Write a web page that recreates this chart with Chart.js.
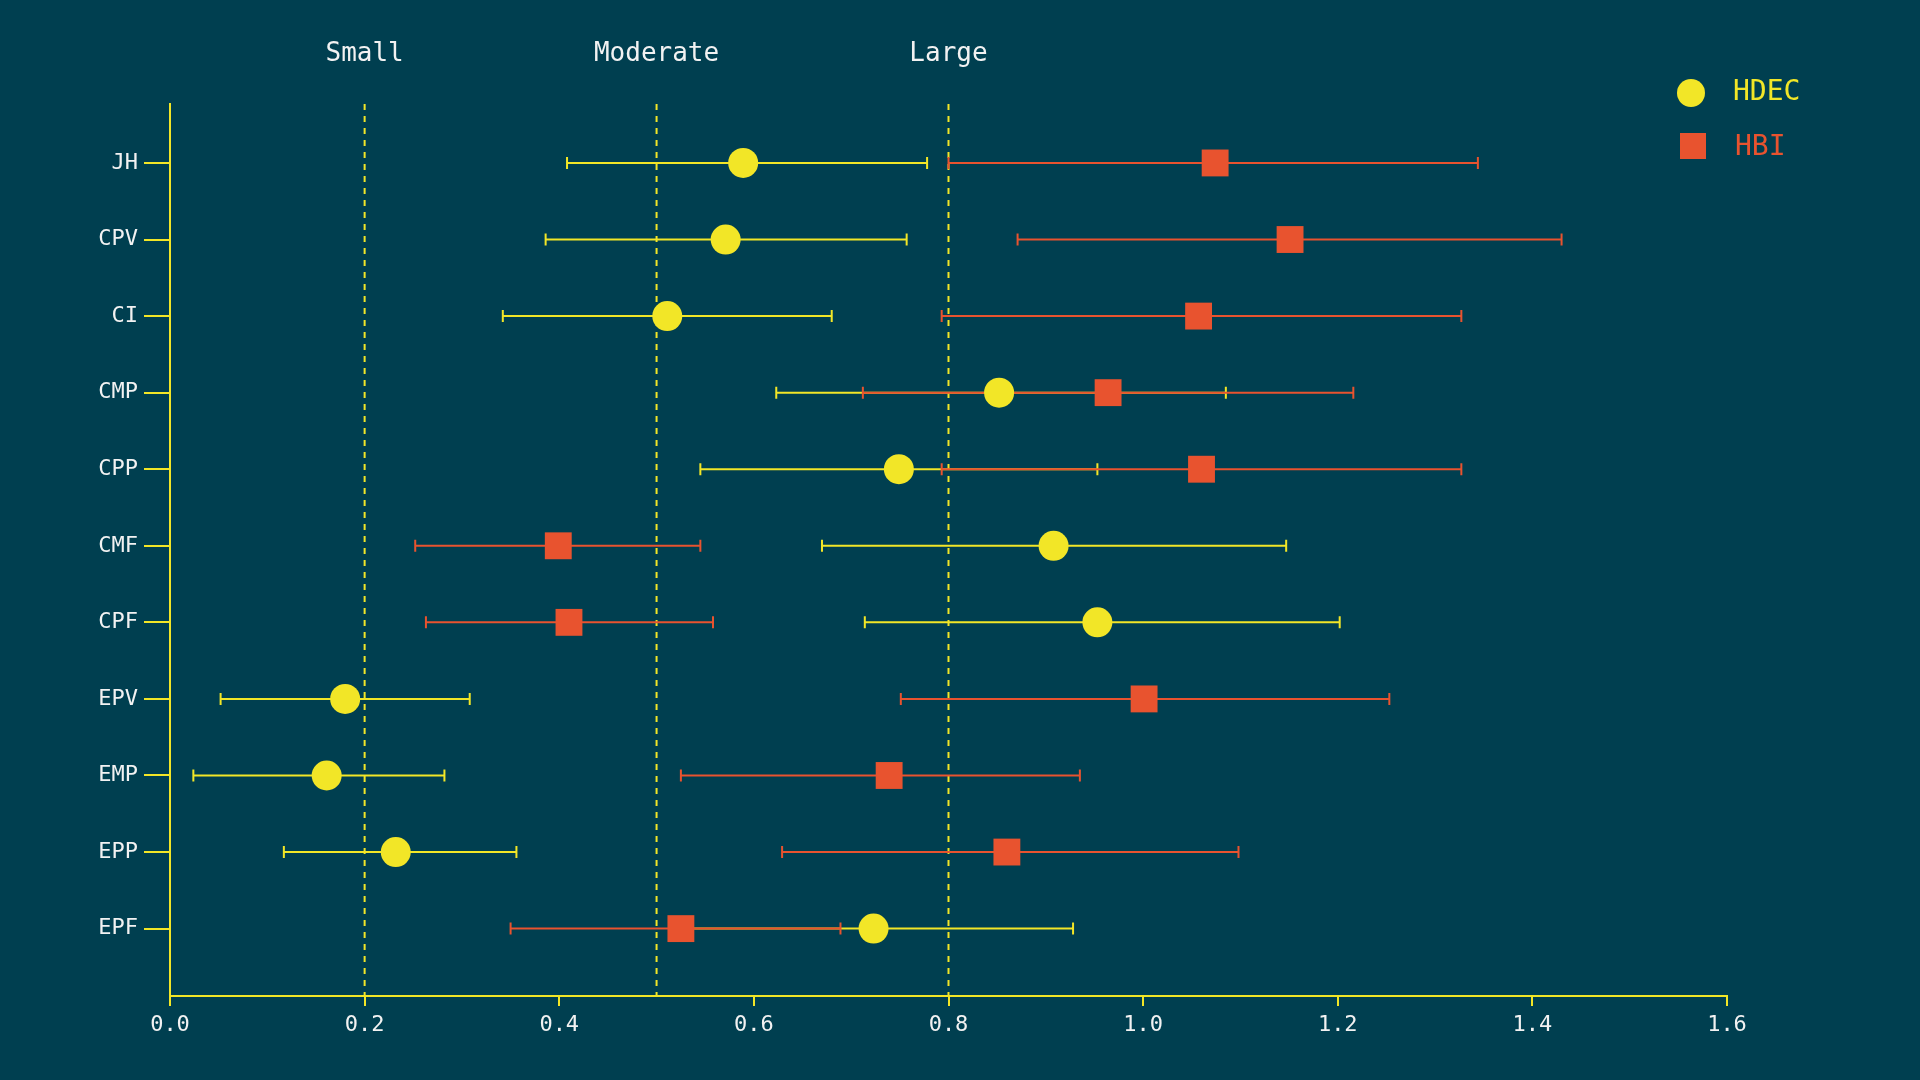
<!DOCTYPE html>
<html>
<head>
<meta charset="utf-8">
<script src="https://cdn.jsdelivr.net/npm/chart.js@4"></script>
<style>
  html, body { margin: 0; padding: 0; background: #003f50; }
  #wrap { width: 1920px; height: 1080px; }
</style>
</head>
<body>
<div id="wrap"><canvas id="chart"></canvas></div>
<script>
const categories = ['JH', 'CPV', 'CI', 'CMP', 'CPP', 'CMF', 'CPF', 'EPV', 'EMP', 'EPP', 'EPF'];

const hdecValue = [0.589, 0.571, 0.511, 0.852, 0.749, 0.908, 0.953, 0.180, 0.161, 0.232, 0.723];
const hdecLow   = [0.408, 0.386, 0.342, 0.623, 0.545, 0.670, 0.714, 0.052, 0.024, 0.117, 0.525];
const hdecHigh  = [0.778, 0.757, 0.680, 1.085, 0.953, 1.147, 1.202, 0.308, 0.282, 0.356, 0.928];

const hbiValue = [1.074, 1.151, 1.057, 0.964, 1.060, 0.399, 0.410, 1.001, 0.739, 0.860, 0.525];
const hbiLow   = [0.800, 0.871, 0.793, 0.712, 0.793, 0.252, 0.263, 0.751, 0.525, 0.629, 0.350];
const hbiHigh  = [1.344, 1.430, 1.327, 1.216, 1.327, 0.545, 0.558, 1.253, 0.935, 1.098, 0.689];

const thresholds = [0.2, 0.5, 0.8];
const thresholdLabels = ['Small', 'Moderate', 'Large'];
const xTicks = [0, 0.2, 0.4, 0.6, 0.8, 1.0, 1.2, 1.4, 1.6];

const YELLOW = '#f2e627';
const ORANGE = '#e8532f';
const BG = '#003f50';
const TEXT = '#f2f2f2';
const MONO = '"DejaVu Sans Mono", monospace';

const toPoints = vals => vals.map((v, i) => ({ x: v, y: i }));

// error bars, threshold lines and their labels, legend
const extras = {
  id: 'extras',
  beforeDatasetsDraw(chart) {
    const { ctx, scales: { x, y }, chartArea } = chart;
    ctx.save();
    // dashed threshold lines
    ctx.strokeStyle = YELLOW;
    ctx.lineWidth = 2;
    ctx.setLineDash([6, 6]);
    thresholds.forEach(t => {
      const px = x.getPixelForValue(t);
      ctx.beginPath();
      ctx.moveTo(px, chartArea.top);
      ctx.lineTo(px, chartArea.bottom);
      ctx.stroke();
    });
    ctx.setLineDash([]);
    ctx.fillStyle = TEXT;
    ctx.font = '26px ' + MONO;
    ctx.textAlign = 'center';
    ctx.textBaseline = 'middle';
    thresholds.forEach((t, i) => {
      ctx.fillText(thresholdLabels[i], x.getPixelForValue(t), 54);
    });
    // error bars
    const bars = (lo, hi, color) => {
      ctx.strokeStyle = color;
      ctx.lineWidth = 2;
      lo.forEach((l, i) => {
        const py = y.getPixelForValue(i);
        const x1 = x.getPixelForValue(l), x2 = x.getPixelForValue(hi[i]);
        ctx.beginPath();
        ctx.moveTo(x1, py); ctx.lineTo(x2, py);
        ctx.moveTo(x1, py - 6); ctx.lineTo(x1, py + 6);
        ctx.moveTo(x2, py - 6); ctx.lineTo(x2, py + 6);
        ctx.stroke();
      });
    };
    bars(hdecLow, hdecHigh, YELLOW);
    bars(hbiLow, hbiHigh, ORANGE);
    ctx.restore();
  },
  afterDraw(chart) {
    const { ctx } = chart;
    ctx.save();
    ctx.font = '28px ' + MONO;
    ctx.textBaseline = 'middle';
    ctx.textAlign = 'left';
    ctx.fillStyle = YELLOW;
    ctx.beginPath();
    ctx.arc(1691, 93, 14, 0, Math.PI * 2);
    ctx.fill();
    ctx.fillText('HDEC', 1733, 93);
    ctx.fillStyle = ORANGE;
    ctx.fillRect(1680, 133, 26, 26);
    ctx.fillText('HBI', 1735, 148);
    ctx.restore();
  }
};

new Chart(document.getElementById('chart'), {
  type: 'scatter',
  data: {
    datasets: [
      {
        label: 'HDEC',
        data: toPoints(hdecValue),
        pointStyle: 'circle',
        pointRadius: 15,
        pointHoverRadius: 15,
        backgroundColor: YELLOW,
        borderWidth: 0
      },
      {
        label: 'HBI',
        data: toPoints(hbiValue),
        pointStyle: 'rect',
        pointRadius: 19,
        pointHoverRadius: 19,
        backgroundColor: ORANGE,
        borderWidth: 0
      }
    ]
  },
  options: {
    responsive: true,
    maintainAspectRatio: false,
    animation: false,
    layout: { padding: { top: 104, right: 193, left: 0, bottom: 0 } },
    plugins: { legend: { display: false }, tooltip: { enabled: false } },
    scales: {
      x: {
        type: 'linear',
        min: 0,
        max: 1.6,
        afterBuildTicks: axis => { axis.ticks = xTicks.map(v => ({ value: v })); },
        afterFit: axis => { axis.height = 84; },
        border: { color: YELLOW, width: 2 },
        grid: { drawOnChartArea: false, color: YELLOW, tickLength: 10, lineWidth: 2 },
        ticks: {
          color: TEXT,
          font: { family: MONO, size: 22 },
          padding: 6,
          callback: v => v.toFixed(1)
        }
      },
      y: {
        type: 'linear',
        reverse: true,
        min: -0.77,
        max: 10.88,
        afterBuildTicks: axis => { axis.ticks = categories.map((c, i) => ({ value: i })); },
        afterFit: axis => { axis.width = 170; },
        border: { color: YELLOW, width: 2 },
        grid: { drawOnChartArea: false, color: YELLOW, tickLength: 26, lineWidth: 2 },
        ticks: {
          color: TEXT,
          font: { family: MONO, size: 22 },
          padding: 6,
          callback: v => categories[v]
        }
      }
    }
  },
  plugins: [extras]
});
</script>
</body>
</html>
